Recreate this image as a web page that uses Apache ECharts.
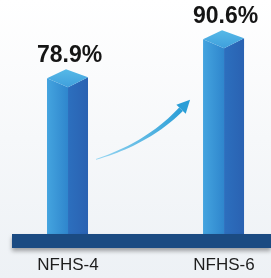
<!DOCTYPE html>
<html>
<head>
<meta charset="utf-8">
<script src="https://cdn.jsdelivr.net/npm/echarts@6/dist/echarts.min.js"></script>
<style>
  html, body { margin: 0; padding: 0; }
  #chart { width: 271px; height: 278px; }
</style>
</head>
<body>
<div id="chart"></div>
<script>
// survey rounds and values
const categories = ["NFHS-4", "NFHS-6"];
const values = [78.9, 90.6];
const labels = ["78.9%", "90.6%"];

const chart = echarts.init(document.getElementById("chart"));

// x position of each bar = index + 1 on a value axis
const barData = values.map((v, i) => [i + 1, v]);

const grad = (x2, y2, c0, c1) =>
  new echarts.graphic.LinearGradient(0, 0, x2, y2, [
    { offset: 0, color: c0 },
    { offset: 1, color: c1 },
  ]);

function arrowShape(s, c, e) {
  // tapered quadratic curve from s to e
  const top = [], bot = [];
  const n = 24;
  for (let i = 0; i <= n; i++) {
    const t = i / n;
    const x = (1 - t) * (1 - t) * s[0] + 2 * t * (1 - t) * c[0] + t * t * e[0];
    const y = (1 - t) * (1 - t) * s[1] + 2 * t * (1 - t) * c[1] + t * t * e[1];
    const dx = 2 * (1 - t) * (c[0] - s[0]) + 2 * t * (e[0] - c[0]);
    const dy = 2 * (1 - t) * (c[1] - s[1]) + 2 * t * (e[1] - c[1]);
    const len = Math.sqrt(dx * dx + dy * dy);
    const w = 0.4 + 2.2 * t;
    top.push([x + (-dy / len) * w, y + (dx / len) * w]);
    bot.push([x - (-dy / len) * w, y - (dx / len) * w]);
  }
  return top.concat(bot.reverse());
}

function renderItem(params, api) {
  const pt = api.coord([api.value(0), api.value(1)]);
  const cx = pt[0], fy = pt[1];
  const bottom = params.coordSys.y + params.coordSys.height;
  const wl = 21, wr = 20;
  const children = [
    {
      type: "polygon",
      shape: { points: [[cx - wl, fy - 9], [cx, fy], [cx, bottom], [cx - wl, bottom]] },
      style: { fill: grad(1, 0, "#44a4df", "#2f86cd") },
    },
    {
      type: "polygon",
      shape: { points: [[cx, fy], [cx + wr, fy - 10], [cx + wr, bottom], [cx, bottom]] },
      style: { fill: grad(1, 0, "#2c6fbe", "#2a62b2") },
    },
    {
      type: "polygon",
      shape: { points: [[cx - wl, fy - 9], [cx - 2, fy - 18], [cx + wr, fy - 10], [cx, fy]] },
      style: { fill: grad(0, 1, "#56b9e7", "#3f9fdc") },
    },
    {
      type: "text",
      style: {
        x: cx + 1.5,
        y: fy - 20,
        text: labels[params.dataIndex],
        fill: "#151515",
        font: 'bold 23px "Liberation Sans", Arial, sans-serif',
        align: "center",
        verticalAlign: "bottom",
      },
    },
  ];
  if (params.dataIndex === 1) {
    const p0 = api.coord([api.value(0, 0), api.value(1, 0)]);
    const s = [p0[0] + 28, p0[1] + 72];
    const e = [cx - 43, fy + 61];
    const c = [s[0] + 52, s[1] - 16];
    const dir = [e[0] - c[0], e[1] - c[1]];
    const len = Math.sqrt(dir[0] * dir[0] + dir[1] * dir[1]);
    const ux = dir[0] / len, uy = dir[1] / len;
    children.push({
      type: "polygon",
      shape: { points: arrowShape(s, c, e) },
      style: { fill: grad(1, 0, "#9ad8f3", "#2a9ed7") },
    });
    children.push({
      type: "polygon",
      shape: {
        points: [
          [e[0] + ux * 13, e[1] + uy * 13],
          [e[0] - uy * 6.5, e[1] + ux * 6.5],
          [e[0] + uy * 6.5, e[1] - ux * 6.5],
        ],
      },
      style: { fill: "#2a9ed7" },
    });
  }
  return { type: "group", children };
}

chart.setOption({
  animation: false,
  backgroundColor: grad(0, 1, "#ffffff", "#edf1f5"),
  grid: { left: 12, right: 0, top: 0, bottom: 37 },
  xAxis: {
    type: "value",
    min: 0.641,
    max: 2.301,
    z: 5,
    axisLine: {
      show: true,
      lineStyle: {
        color: "#1b4b82",
        width: 14,
        cap: "butt",
        shadowColor: "rgba(0,0,0,0.35)",
        shadowBlur: 4,
        shadowOffsetY: 3,
      },
    },
    axisTick: { show: false },
    splitLine: { show: false },
    axisLabel: {
      customValues: [1, 2],
      formatter: (v) => categories[Math.round(v) - 1],
      margin: 16,
      color: "#1e1e1e",
      fontSize: 17,
      fontFamily: '"Liberation Sans", Arial, sans-serif',
    },
  },
  yAxis: { type: "value", min: 33, max: 105, show: false },
  series: [
    {
      type: "custom",
      renderItem: renderItem,
      data: barData,
      clip: false,
    },
  ],
});
</script>
</body>
</html>
